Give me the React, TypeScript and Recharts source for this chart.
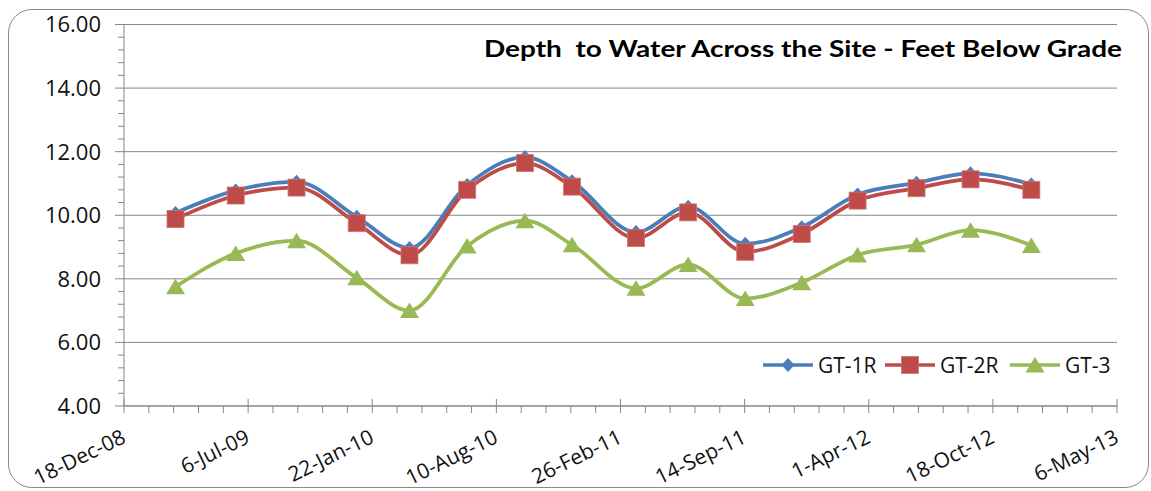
import React from 'react';
import { LineChart, Line, XAxis, YAxis, CartesianGrid, Legend } from 'recharts';

// ---- data ----
const sampleDates = [
  '2009-03-11', '2009-06-16', '2009-09-22', '2009-12-28',
  '2010-03-23', '2010-06-24', '2010-09-25', '2010-12-10',
  '2011-03-23', '2011-06-15', '2011-09-15', '2011-12-15',
  '2012-03-14', '2012-06-17', '2012-09-12', '2012-12-19',
];
const gt1r = [10.07, 10.78, 11.05, 9.95, 8.97, 10.95, 11.83, 11.07, 9.47, 10.27, 9.1, 9.62, 10.65, 11.02, 11.32, 10.97];
const gt2r = [9.88, 10.62, 10.87, 9.75, 8.74, 10.8, 11.64, 10.9, 9.28, 10.09, 8.85, 9.41, 10.46, 10.85, 11.13, 10.8];
const gt3 = [7.75, 8.8, 9.2, 8.03, 7.0, 9.03, 9.83, 9.07, 7.7, 8.45, 7.38, 7.88, 8.75, 9.07, 9.53, 9.05];

const xTickDates = [
  '2008-12-18', '2009-07-06', '2010-01-22', '2010-08-10', '2011-02-26',
  '2011-09-14', '2012-04-01', '2012-10-18', '2013-05-06',
];
const xTickLabels = [
  '18-Dec-08', '6-Jul-09', '22-Jan-10', '10-Aug-10', '26-Feb-11',
  '14-Sep-11', '1-Apr-12', '18-Oct-12', '6-May-13',
];
const yTicks = [4, 6, 8, 10, 12, 14, 16];
const yTickLabels = ['4.00', '6.00', '8.00', '10.00', '12.00', '14.00', '16.00'];

const seriesKeys = ['gt1r', 'gt2r', 'gt3'];
const seriesNames = ['GT-1R', 'GT-2R', 'GT-3'];
const seriesColors = ['#4A7EBB', '#BE4B48', '#98B954'];
const seriesMarkers = ['diamond', 'square', 'triangle'];
const chartTitle = 'Depth  to Water Across the Site - Feet Below Grade';

// ---- helpers ----
const toDay = (s: string) => Date.parse(s + 'T00:00:00Z') / 86400000;
const majorX = xTickDates.map(toDay);
const minorX: number[] = [];
for (let i = 0; i < majorX.length - 1; i++) {
  const step = (majorX[i + 1] - majorX[i]) / 5;
  for (let k = 1; k < 5; k++) minorX.push(majorX[i] + step * k);
}
const minorY: number[] = [];
for (let i = 0; i < yTicks.length - 1; i++) {
  const step = (yTicks[i + 1] - yTicks[i]) / 5;
  for (let k = 1; k < 5; k++) minorY.push(yTicks[i] + step * k);
}

const data = sampleDates.map((d, i) => ({
  day: toDay(d),
  gt1r: gt1r[i],
  gt2r: gt2r[i],
  gt3: gt3[i],
}));

const FONT = '"Open Sans", "DejaVu Sans", sans-serif';
const AXIS = '#868686';

function Marker({ kind, cx, cy, color }: { kind: string; cx: number; cy: number; color: string }) {
  if (kind === 'diamond') {
    return <path d={`M${cx},${cy - 7}L${cx + 6.5},${cy}L${cx},${cy + 7}L${cx - 6.5},${cy}Z`} fill={color} />;
  }
  if (kind === 'square') {
    return <rect x={cx - 8.5} y={cy - 8.5} width={17} height={17} fill={color} stroke="#C77977" strokeWidth={0.8} />;
  }
  return <path d={`M${cx},${cy - 8}L${cx + 9.5},${cy + 7.5}L${cx - 9.5},${cy + 7.5}Z`} fill={color} />;
}

const makeDot = (idx: number) => (props: any) => {
  const { cx, cy, index } = props;
  if (cx == null || cy == null) return <g key={`d${idx}-${index}`} />;
  return (
    <g key={`d${idx}-${index}`}>
      <Marker kind={seriesMarkers[idx]} cx={cx} cy={cy} color={seriesColors[idx]} />
    </g>
  );
};

const XTick = (props: any) => {
  const { x, y, payload } = props;
  const i = majorX.indexOf(payload.value);
  const ax = x + 3;
  const ay = y + 36;
  return (
    <g>
      <line x1={x} x2={x} y1={y - 7} y2={y + 7} stroke={AXIS} strokeWidth={1} />
      <text
        x={ax}
        y={ay}
        textAnchor="end"
        transform={`rotate(-26 ${ax} ${ay})`}
        fontFamily={FONT}
        fontSize={21}
        fill="#111"
      >
        {i >= 0 ? xTickLabels[i] : ''}
      </text>
    </g>
  );
};

const YTick = (props: any) => {
  const { x, y, payload } = props;
  const i = yTicks.indexOf(payload.value);
  return (
    <text x={x} y={y} dy="0.36em" textAnchor="end" fontFamily={FONT} fontSize={22} fill="#111">
      {i >= 0 ? yTickLabels[i] : ''}
    </text>
  );
};

const Empty = () => <g />;

const LegendContent = () => {
  const offsets = [0, 122, 247];
  return (
    <svg width={380} height={30} style={{ overflow: 'visible', display: 'block' }}>
      {seriesNames.map((name, i) => {
        const x0 = offsets[i];
        return (
          <g key={name}>
            <line x1={x0} x2={x0 + 50} y1={15} y2={15} stroke={seriesColors[i]} strokeWidth={3.5} />
            <Marker kind={seriesMarkers[i]} cx={x0 + 25} cy={15} color={seriesColors[i]} />
            <text x={x0 + 55} y={15} dy="0.36em" fontFamily={FONT} fontSize={21} fill="#111">
              {name}
            </text>
          </g>
        );
      })}
    </svg>
  );
};

export default function App() {
  return (
    <div style={{ position: 'absolute', left: 0, top: 0, width: 1151, height: 491, background: '#fff' }}>
      <div
        style={{
          position: 'absolute',
          left: 8,
          top: 9,
          width: 1141,
          height: 479,
          border: '1.5px solid #8a8a8a',
          borderRadius: 24,
          boxSizing: 'border-box',
        }}
      />
      <div style={{ position: 'absolute', left: 0, top: 0 }}>
        <LineChart
          width={1151}
          height={491}
          data={data}
          margin={{ top: 24.5, right: 34, bottom: 85, left: 123.98 }}
        >
          <CartesianGrid horizontal vertical={false} stroke={AXIS} strokeWidth={1} />
          <XAxis
            xAxisId="minor"
            dataKey="day"
            type="number"
            domain={[majorX[0], majorX[majorX.length - 1]]}
            ticks={minorX}
            interval={0}
            height={0.01}
            axisLine={false}
            tickLine={{ stroke: AXIS, strokeWidth: 1 }}
            tickSize={7}
            tick={Empty}
            allowDataOverflow
          />
          <XAxis
            dataKey="day"
            type="number"
            domain={[majorX[0], majorX[majorX.length - 1]]}
            ticks={majorX}
            interval={0}
            height={0.01}
            axisLine={{ stroke: AXIS, strokeWidth: 1 }}
            tickLine={false}
            tickSize={0}
            tickMargin={0}
            tick={XTick}
            allowDataOverflow
          />
          <YAxis
            yAxisId="minor"
            type="number"
            domain={[4, 16]}
            ticks={minorY}
            interval={0}
            width={0.01}
            axisLine={false}
            tickLine={{ stroke: AXIS, strokeWidth: 1 }}
            tickSize={6}
            tick={Empty}
            allowDataOverflow
          />
          <YAxis
            type="number"
            domain={[4, 16]}
            ticks={yTicks}
            interval={0}
            width={0.01}
            axisLine={{ stroke: AXIS, strokeWidth: 1 }}
            tickLine={{ stroke: AXIS, strokeWidth: 1 }}
            tickSize={9}
            tickMargin={14}
            tick={YTick}
            allowDataOverflow
          />
          <Legend
            layout="horizontal"
            verticalAlign="middle"
            align="center"
            wrapperStyle={{ position: 'absolute', left: 763, top: 350, width: 380, height: 30 }}
            content={LegendContent}
          />
          {seriesKeys.map((k, i) => (
            <Line
              key={k}
              dataKey={k}
              name={seriesNames[i]}
              type="monotone"
              stroke={seriesColors[i]}
              strokeWidth={3.8}
              dot={makeDot(i)}
              activeDot={false}
              isAnimationActive={false}
            />
          ))}
          <text
            x={1122}
            y={57}
            textAnchor="end"
            fontFamily='Lato, "Open Sans", sans-serif'
            fontWeight="bold"
            fontSize={23}
            fill="#000"
            textLength={638}
            lengthAdjust="spacingAndGlyphs"
            style={{ whiteSpace: 'pre' }}
          >
            {chartTitle}
          </text>
        </LineChart>
      </div>
    </div>
  );
}
